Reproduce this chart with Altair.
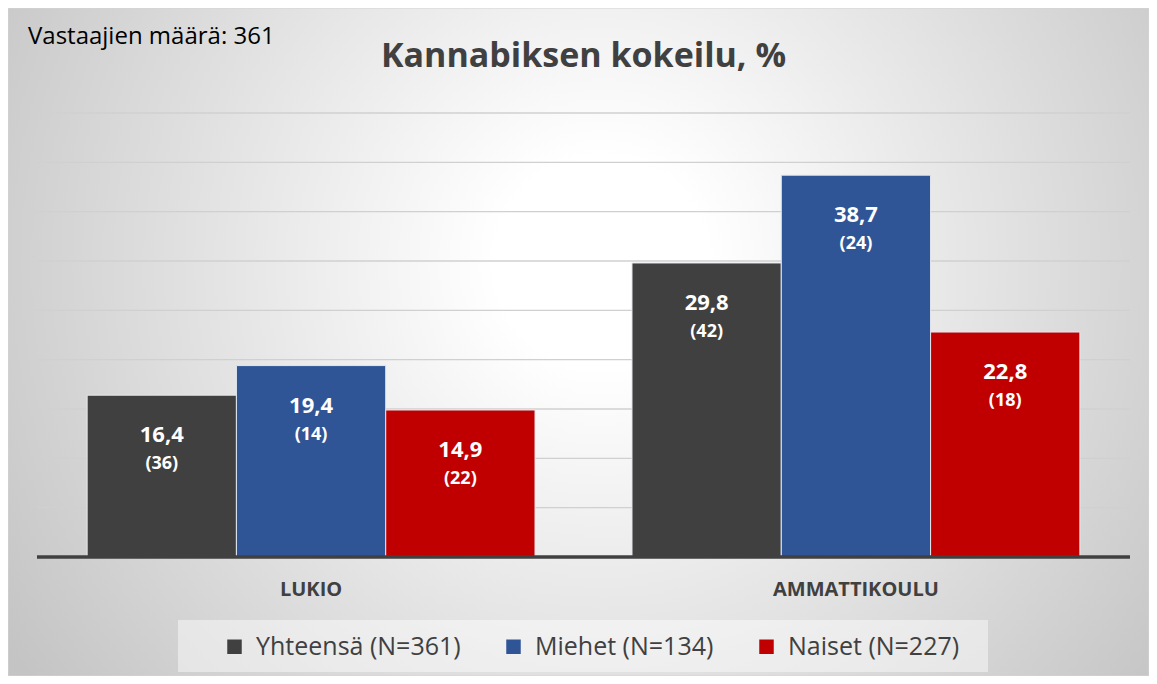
import altair as alt
import pandas as pd

# ---- data ----
categories = ["LUKIO", "AMMATTIKOULU"]
series = ["Yhteensä (N=361)", "Miehet (N=134)", "Naiset (N=227)"]
lukio_values = [16.4, 19.4, 14.9]
ammatti_values = [29.8, 38.7, 22.8]
lukio_counts = [36, 14, 22]
ammatti_counts = [42, 24, 18]
grid_values = [5, 10, 15, 20, 25, 30, 35, 40, 45]
colors = ["#404040", "#2F5597", "#C00000"]
title_text = "Kannabiksen kokeilu, %"
respondents_text = "Vastaajien määrä: 361"

rows = []
for cat, vals, cnts in [(categories[0], lukio_values, lukio_counts),
                        (categories[1], ammatti_values, ammatti_counts)]:
    for s, v, n in zip(series, vals, cnts):
        rows.append({"category": cat, "series": s, "value": v, "n": n})
df = pd.DataFrame(rows)

W, H = 1093, 444
PAD = {"left": 29, "top": 105, "right": 19, "bottom": 119}
FONT = "Open Sans"

x_enc = alt.X("category:N", sort=categories, title=None,
              scale=alt.Scale(paddingInner=0.178, paddingOuter=0.092),
              axis=alt.Axis(labelFont=FONT, labelFontSize=20, labelFontWeight="bold",
                            labelColor="#404040", ticks=False, domain=False, grid=False,
                            labelPadding=32, labelBaseline="middle", labelAngle=0,
                            zindex=1))
xo_enc = alt.XOffset("series:N", sort=series, scale=alt.Scale(paddingInner=0, paddingOuter=0))
y_scale = alt.Scale(domain=[0, 45], nice=False)

# background gradient (decoration)
bg = alt.Chart(pd.DataFrame({"a": [0]})).mark_rect(
    fill={"gradient": "radial",
          "x1": 0.52, "y1": 0.43, "r1": 0.0,
          "x2": 0.52, "y2": 0.43, "r2": 0.62,
          "stops": [{"offset": 0.0, "color": "#ffffff"},
                    {"offset": 0.15, "color": "#ffffff"},
                    {"offset": 1.0, "color": "#c4c4c4"}]},
    stroke="#d4d4d4", strokeWidth=1
).encode(x=alt.value(-PAD["left"]), x2=alt.value(W + PAD["right"]),
         y=alt.value(-PAD["top"]), y2=alt.value(H + PAD["bottom"]))

# legend background box (decoration)
legend_box = alt.Chart(pd.DataFrame({"a": [0]})).mark_rect(
    fill="#ffffff", fillOpacity=0.45
).encode(x=alt.value(141), x2=alt.value(951), y=alt.value(507), y2=alt.value(559))

grid = alt.Chart(pd.DataFrame({"g": grid_values})).mark_rule(
    color="#d0d0d0", strokeWidth=1.3
).encode(y=alt.Y("g:Q", scale=y_scale, axis=None), x=alt.value(0), x2=alt.value(W))

base = alt.Chart(df).encode(x=x_enc, xOffset=xo_enc)

bars = base.mark_bar(stroke="#e4e8ee", strokeWidth=1).encode(
    y=alt.Y("value:Q", scale=y_scale, axis=None),
    color=alt.Color("series:N", sort=series,
                    scale=alt.Scale(domain=series, range=colors),
                    legend=alt.Legend(title=None, orient="none", legendX=173, legendY=509,
                                      direction="horizontal", symbolType="square",
                                      symbolSize=210, symbolStrokeWidth=0,
                                      labelFont=FONT, labelFontSize=25, labelColor="#404040",
                                      labelOffset=9, columnPadding=40, padding=12,
                                      labelLimit=400, zindex=1))
)

value_text = base.mark_text(font=FONT, fontSize=22, fontWeight="bold", color="white",
                            baseline="middle", dy=40).encode(
    y=alt.Y("value:Q", scale=y_scale), text="label:N"
).transform_calculate(label="replace(format(datum.value, '.1f'), '.', ',')")

n_text = base.mark_text(font=FONT, fontSize=18, fontWeight="bold", color="white",
                        baseline="middle", dy=69).encode(
    y=alt.Y("value:Q", scale=y_scale), text="nlabel:N"
).transform_calculate(nlabel="'(' + datum.n + ')'")

baseline = alt.Chart(pd.DataFrame({"z": [0]})).mark_rule(
    color="#404040", strokeWidth=3.5
).encode(y=alt.Y("z:Q", scale=y_scale), x=alt.value(0), x2=alt.value(W))

respondents = alt.Chart(pd.DataFrame({"t": [respondents_text]})).mark_text(
    font=FONT, fontSize=24, color="#000000", align="left", baseline="middle"
).encode(x=alt.value(-9), y=alt.value(-76), text="t:N")

title = alt.Chart(pd.DataFrame({"t": [title_text]})).mark_text(
    font=FONT, fontSize=34, fontWeight="bold", color="#404040", align="center",
    baseline="middle"
).encode(x=alt.value(W / 2), y=alt.value(-56), text="t:N")

chart = alt.layer(bg, legend_box, grid, bars, value_text, n_text, baseline,
                  respondents, title).properties(
    width=W, height=H,
    autosize=alt.AutoSizeParams(type="none"),
    padding=PAD,
).configure_view(stroke=None).configure(background="#ffffff")

chart.save("out.html", embed_options={"renderer": "svg", "actions": False})
